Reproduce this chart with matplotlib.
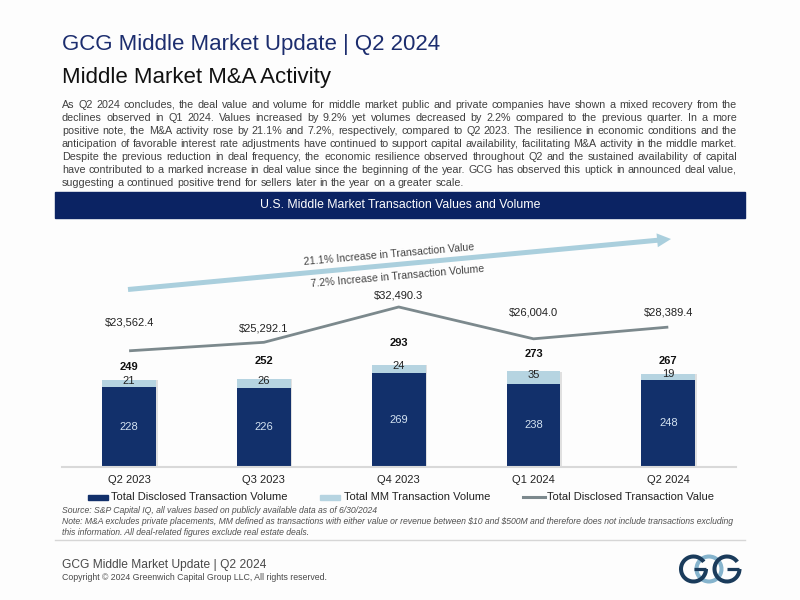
import math
import matplotlib
matplotlib.use('Agg')
import matplotlib.pyplot as plt
from matplotlib.patches import Rectangle, Arc
from matplotlib.lines import Line2D
import matplotlib.patheffects as pe
import numpy as np

plt.rcParams['font.family'] = ['Liberation Sans', 'DejaVu Sans']

# ---------------- data ----------------
quarters = ['Q2 2023', 'Q3 2023', 'Q4 2023', 'Q1 2024', 'Q2 2024']
disclosed_volume = [228, 226, 269, 238, 248]
mm_volume = [21, 26, 24, 35, 19]
total_volume = [249, 252, 293, 273, 267]
total_value = [23562.4, 25292.1, 32490.3, 26004.0, 28389.4]
value_labels = ['$23,562.4', '$25,292.1', '$32,490.3', '$26,004.0', '$28,389.4']

title = 'GCG Middle Market Update | Q2 2024'
subtitle = 'Middle Market M&A Activity'
paragraph = [
    "As Q2 2024 concludes, the deal value and volume for middle market public and private companies have shown a mixed recovery from the",
    "declines observed in Q1 2024. Values increased by 9.2% yet volumes decreased by 2.2% compared to the previous quarter. In a more",
    "positive note, the M&A activity rose by 21.1% and 7.2%, respectively, compared to Q2 2023. The resilience in economic conditions and the",
    "anticipation of favorable interest rate adjustments have continued to support capital availability, facilitating M&A activity in the middle market.",
    "Despite the previous reduction in deal frequency, the economic resilience observed throughout Q2 and the sustained availability of capital",
    "have contributed to a marked increase in deal value since the beginning of the year. GCG has observed this uptick in announced deal value,",
    "suggesting a continued positive trend for sellers later in the year on a greater scale.",
]
banner_text = 'U.S. Middle Market Transaction Values and Volume'
arrow_texts = ['21.1% Increase in Transaction Value', '7.2% Increase in Transaction Volume']
legend_labels = ['Total Disclosed Transaction Volume', 'Total MM Transaction Volume',
                 'Total Disclosed Transaction Value']
notes = [
    "Source: S&P Capital IQ, all values based on publicly available data as of 6/30/2024",
    "Note: M&A excludes private placements, MM defined as transactions with either value or revenue between $10 and $500M and therefore does not include transactions excluding",
    "this information. All deal-related figures exclude real estate deals.",
]
footer1 = 'GCG Middle Market Update | Q2 2024'
footer2 = 'Copyright \u00a9 2024 Greenwich Capital Group LLC, All rights reserved.'

# ---------------- style ----------------
DARK = '#12306b'
LIGHT = '#b6d4e1'
LINE = '#7c898d'
NAVY = '#0b2363'
ARROW = '#aacfdd'

W, H = 800, 600
fig = plt.figure(figsize=(8, 6), dpi=100, facecolor='#fdfdfd')
renderer = fig.canvas.get_renderer()


def fx(x):
    return x / W


def fy(y):
    return 1 - y / H


def text_width(s, **kw):
    t = fig.text(0, 0, s, parse_math=False, **kw)
    w = t.get_window_extent(renderer).width
    t.remove()
    return w


def word_metrics(s, **kw):
    t = fig.text(0, 0, s, parse_math=False, **kw)
    prop = t.get_fontproperties()
    w, h, d = renderer.get_text_width_height_descent(s, prop, ismath=False)
    t.remove()
    return w, h, d


def fit_fs(s, target, base=8, **kw):
    return base * target / text_width(s, fontsize=base, **kw)


def place_word(xpos, k_base, s, h, d, **kw):
    # Compensate the raster rounding of the text bitmap so that every word
    # lands on the same integer pixel baseline.
    a = h - d
    yb = k_base + math.floor(a + d + 1e-9) - math.floor(a + 1e-9) - d
    fig.text(fx(xpos), fy(yb), s, va='baseline', ha='left', parse_math=False, **kw)


def justified(lines, x0, x1, y0, dy, **kw):
    target = x1 - x0
    space = text_width('n n', **kw) - text_width('nn', **kw)
    for i, line in enumerate(lines):
        k_base = int(round(y0 + i * dy))
        words = line.split(' ')
        mets = [word_metrics(w, **kw) for w in words]
        widths = [m[0] for m in mets]
        if i == len(lines) - 1:
            gap = space
        else:
            gap = (target - sum(widths)) / (len(words) - 1)
        xx = x0
        for w, (wd, h, d) in zip(words, mets):
            place_word(xx, k_base, w, h, d, **kw)
            xx += wd + gap


# ---------------- header ----------------
fig.text(fx(62), fy(50), title, fontsize=16, color='#1c2d6e', va='baseline')
fig.text(fx(62), fy(83.3), subtitle, fontsize=16, color='#111111', va='baseline')

pfs = min(fit_fs(l, 675 * 0.995, base=8) for l in paragraph[:-1])
justified(paragraph, 62, 737, 107.6, 13.12, fontsize=pfs, color='#404040')

fig.patches.append(Rectangle((fx(55), fy(217.7)), (745 - 55) / W, (217.7 - 192.3) / H,
                             transform=fig.transFigure, color=NAVY, zorder=1))
fig.text(fx(400), fy(205.3), banner_text, fontsize=8.8, color='white',
         ha='center', va='center', zorder=2)

# ---------------- chart ----------------
base_y, top_y = 466.5, 230
ax = fig.add_axes([fx(61.7), fy(base_y), (735.7 - 61.7) / W, (base_y - top_y) / H])
ax.set_facecolor('none')
x = np.arange(len(quarters))
bw = 0.40
shadow = [pe.SimplePatchShadow(offset=(1.1, -0.4), shadow_rgbFace='#8a8a8a', alpha=0.25), pe.Normal()]
ax.bar(x, mm_volume, bw, bottom=disclosed_volume, color=LIGHT, zorder=2, path_effects=shadow)
ax.bar(x, disclosed_volume, bw, color=DARK, zorder=2, path_effects=shadow)
ax.set_xlim(-0.5, 4.5)
ax.set_ylim(0, (base_y - top_y) / 0.348)

tot_off = [13.3, 18, 21.8, 17.2, 12.3]
for i in range(len(quarters)):
    ax.text(x[i], disclosed_volume[i] / 2, str(disclosed_volume[i]), ha='center', va='center',
            color='#d3e2f1', fontsize=8, zorder=4)
    ax.annotate(str(mm_volume[i]), (x[i], disclosed_volume[i] + mm_volume[i] / 2), xytext=(0, 2.5),
                textcoords='offset pixels', ha='center', va='center', fontsize=8, color='#222222', zorder=4)
    ax.annotate(str(total_volume[i]), (x[i], total_volume[i]), xytext=(0, tot_off[i]),
                textcoords='offset pixels', ha='center', va='center', fontsize=8,
                fontweight='bold', color='#111111', zorder=4)

for s in ['top', 'left', 'right']:
    ax.spines[s].set_visible(False)
ax.spines['bottom'].set_color('#d9d9d9')
ax.spines['bottom'].set_linewidth(1.5)
ax.set_yticks([])
ax.set_xticks(x, quarters)
ax.tick_params(axis='x', length=0, pad=6, labelsize=8, labelcolor='#222222')

ax2 = ax.twinx()
ax2.set_ylim(0, (base_y - top_y) / 0.00491)
ax2.plot(x, total_value, color=LINE, lw=2.0, solid_capstyle='butt', zorder=3)
val_off = [28.3, 14, 11.7, 26.7, 14.6]
for i in range(len(quarters)):
    ax2.annotate(value_labels[i], (x[i], total_value[i]), xytext=(0, val_off[i]),
                 textcoords='offset pixels', ha='center', va='center', fontsize=8,
                 color='#222222', parse_math=False)
ax2.axis('off')

# trend arrow + texts
ax.annotate('', xy=(671, H - 239), xycoords='figure pixels', xytext=(128, H - 289.5),
            textcoords='figure pixels',
            arrowprops=dict(arrowstyle='simple,tail_width=0.36,head_width=1.0,head_length=1.0',
                            mutation_scale=10, color=ARROW, lw=0, shrinkA=0, shrinkB=0))
fig.text(fx(389), fy(254.5), arrow_texts[0], fontsize=7.6, color='#444444', rotation=5,
         rotation_mode='anchor', ha='center', va='center')
fig.text(fx(397.5), fy(276), arrow_texts[1], fontsize=7.6, color='#444444', rotation=5,
         rotation_mode='anchor', ha='center', va='center')

# legend
leg_y = 497.3
fig.patches.append(Rectangle((fx(88), fy(leg_y + 2.3)), 20 / W, 4.6 / H, transform=fig.transFigure, color=DARK))
fig.text(fx(110.7), fy(leg_y), legend_labels[0], fontsize=8, color='#222222', va='center')
fig.patches.append(Rectangle((fx(320.4), fy(leg_y + 2.3)), 20 / W, 4.6 / H, transform=fig.transFigure, color=LIGHT))
fig.text(fx(344.4), fy(leg_y), legend_labels[1], fontsize=8, color='#222222', va='center')
fig.lines.append(Line2D([fx(523), fx(545)], [fy(leg_y), fy(leg_y)], transform=fig.transFigure,
                        color=LINE, lw=2.2))
fig.text(fx(547.4), fy(leg_y), legend_labels[2], fontsize=8, color='#222222', va='center')

# notes
nfs = fit_fs(notes[1], 676, base=7, style='italic')
for s, yb in zip(notes, [513, 523.8, 534.8]):
    fig.text(fx(62), fy(yb), s, fontsize=nfs, style='italic', color='#505050', va='baseline',
             parse_math=False)

fig.lines.append(Line2D([fx(55), fx(745)], [fy(540.3), fy(540.3)], transform=fig.transFigure,
                        color='#d6d6d6', lw=1.0))

# footer
f1 = fit_fs(footer1, 203.3, base=8.5)
fig.text(fx(62), fy(567.8), footer1, fontsize=f1, color='#4a4a4a', va='baseline')
f2 = fit_fs(footer2, 263.5, base=7)
fig.text(fx(62), fy(579.5), footer2, fontsize=f2, color='#4a4a4a', va='baseline')

# logo
lax = fig.add_axes([fx(676), fy(585), 69 / W, 32 / H])
lax.set_xlim(0, 69)
lax.set_ylim(0, 32)
lax.axis('off')
LDARK = '#1a3b5b'
LLIGHT = '#86b4cd'
lw = 2.9
lax.add_patch(Arc((33, 16), 25, 25, theta1=0, theta2=360, color=LLIGHT, lw=lw))
lax.add_patch(Arc((17.5, 16), 25, 25, theta1=35, theta2=360, color=LDARK, lw=lw))
lax.plot([17.5, 30], [16, 16], color=LDARK, lw=lw * 0.8, solid_capstyle='butt')
lax.add_patch(Arc((51, 16), 25, 25, theta1=35, theta2=360, color=LDARK, lw=lw))
lax.plot([51, 63.5], [16, 16], color=LDARK, lw=lw * 0.8, solid_capstyle='butt')

fig.savefig('out.png', dpi=100, facecolor=fig.get_facecolor())
